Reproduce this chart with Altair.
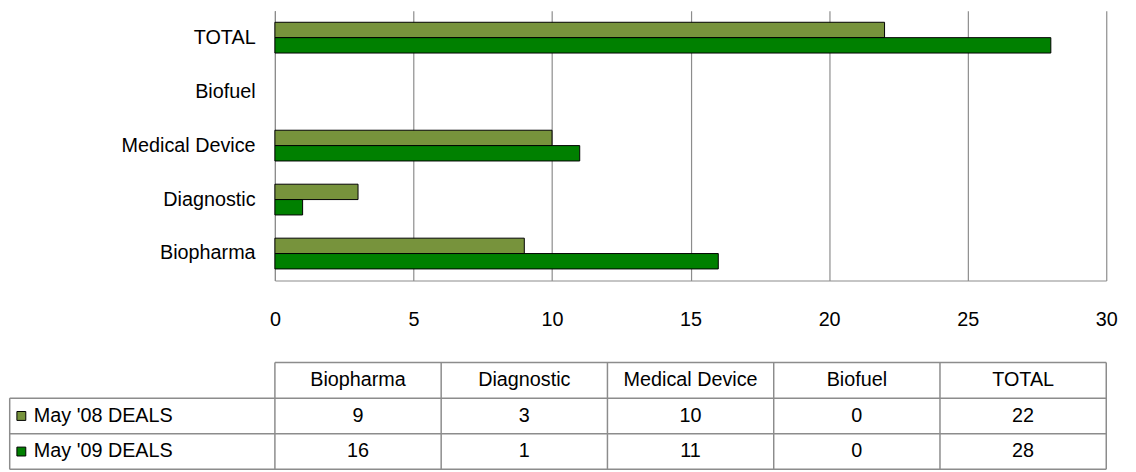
import altair as alt
import pandas as pd

categories = ["Biopharma", "Diagnostic", "Medical Device", "Biofuel", "TOTAL"]
series = ["May '08 DEALS", "May '09 DEALS"]
deals_08 = [9, 3, 10, 0, 22]
deals_09 = [16, 1, 11, 0, 28]
colors = ["#77933C", "#008000"]
x_ticks = [0, 5, 10, 15, 20, 25, 30]

FONT = "Liberation Sans"
FS = 20
GRAY = "#8c8c8c"

values_by_series = [deals_08, deals_09]

# ---- bar chart data
rows = []
for s, vals in zip(series, values_by_series):
    for c, v in zip(categories, vals):
        rows.append({"category": c, "series": s, "value": v})
df = pd.DataFrame(rows)

bars = (
    alt.Chart(df)
    .transform_filter("datum.value > 0")
    .mark_bar(stroke="black", strokeWidth=1)
    .encode(
        x=alt.X(
            "value:Q",
            scale=alt.Scale(domain=[0, 30], nice=False),
            axis=alt.Axis(
                values=x_ticks, title=None, grid=True, gridColor=GRAY, gridOpacity=1,
                gridWidth=1.2, domainColor=GRAY, domainWidth=1.2, ticks=False,
                labelPadding=29, labelFontSize=FS, labelFont=FONT, labelColor="black",
                labelFlush=False,
            ),
        ),
        y=alt.Y(
            "category:N",
            sort=categories[::-1],
            scale=alt.Scale(domain=categories[::-1], paddingInner=0.43, paddingOuter=0.215),
            axis=alt.Axis(
                title=None, ticks=False, domainColor=GRAY, domainWidth=1.2, labelPadding=20,
                labelFontSize=FS, labelFont=FONT, labelColor="black",
            ),
        ),
        yOffset=alt.YOffset("series:N", sort=series, scale=alt.Scale(domain=series)),
        color=alt.Color("series:N", scale=alt.Scale(domain=series, range=colors), legend=None),
    )
    .properties(width=841, height=273)
)

# ---- data table
ncol = len(categories)
nrow = len(series) + 1
LABEL_LEFT = -1.595
SQUARE_X = -1.525
TEXT_X = -1.45

header_df = pd.DataFrame(
    {"label": categories, "x": [i + 0.5 for i in range(ncol)], "y": [0.5] * ncol}
)
cell_rows = []
for r, vals in enumerate(values_by_series, start=1):
    for i, v in enumerate(vals):
        cell_rows.append({"label": str(v), "x": i + 0.5, "y": r + 0.5})
cells_df = pd.concat([header_df, pd.DataFrame(cell_rows)], ignore_index=True)

row_df = pd.DataFrame(
    {"series": series, "y": [r + 0.5 for r in range(1, nrow)],
     "sx": [SQUARE_X] * len(series), "tx": [TEXT_X] * len(series)}
)

lines = []
for b in range(ncol + 1):
    lines.append({"x": b, "x2": b, "y": 0, "y2": nrow})
lines.append({"x": LABEL_LEFT, "x2": LABEL_LEFT, "y": 1, "y2": nrow})
lines.append({"x": 0, "x2": ncol, "y": 0, "y2": 0})
for r in range(1, nrow + 1):
    lines.append({"x": LABEL_LEFT, "x2": ncol, "y": r, "y2": r})
lines_df = pd.DataFrame(lines)

xs = alt.Scale(domain=[0, ncol], nice=False, zero=False)
ys = alt.Scale(domain=[0, nrow], nice=False, zero=False, reverse=True)

grid = alt.Chart(lines_df).mark_rule(color=GRAY, strokeWidth=1.5).encode(
    x=alt.X("x:Q", scale=xs, axis=None),
    x2="x2:Q",
    y=alt.Y("y:Q", scale=ys, axis=None),
    y2="y2:Q",
)
cell_text = alt.Chart(cells_df).mark_text(
    font=FONT, fontSize=FS, color="black", baseline="middle", align="center"
).encode(
    x=alt.X("x:Q", scale=xs, axis=None),
    y=alt.Y("y:Q", scale=ys, axis=None),
    text="label:N",
)
squares = alt.Chart(row_df).mark_point(
    shape="square", filled=True, stroke="black", strokeWidth=1, size=81, opacity=1
).encode(
    x=alt.X("sx:Q", scale=xs, axis=None),
    y=alt.Y("y:Q", scale=ys, axis=None),
    color=alt.Color("series:N", scale=alt.Scale(domain=series, range=colors), legend=None),
)
row_labels = alt.Chart(row_df).mark_text(
    font=FONT, fontSize=FS, color="black", baseline="middle", align="left"
).encode(
    x=alt.X("tx:Q", scale=xs, axis=None),
    y=alt.Y("y:Q", scale=ys, axis=None),
    text="series:N",
)

table = alt.layer(grid, cell_text, squares, row_labels).properties(width=841, height=108)

chart = (
    alt.vconcat(bars, table, spacing=33)
    .properties(padding={"left": 0, "top": 0, "right": 10, "bottom": 0})
    .configure_view(stroke=None)
)

chart.save("out.html", embed_options={"renderer": "svg", "actions": False})
